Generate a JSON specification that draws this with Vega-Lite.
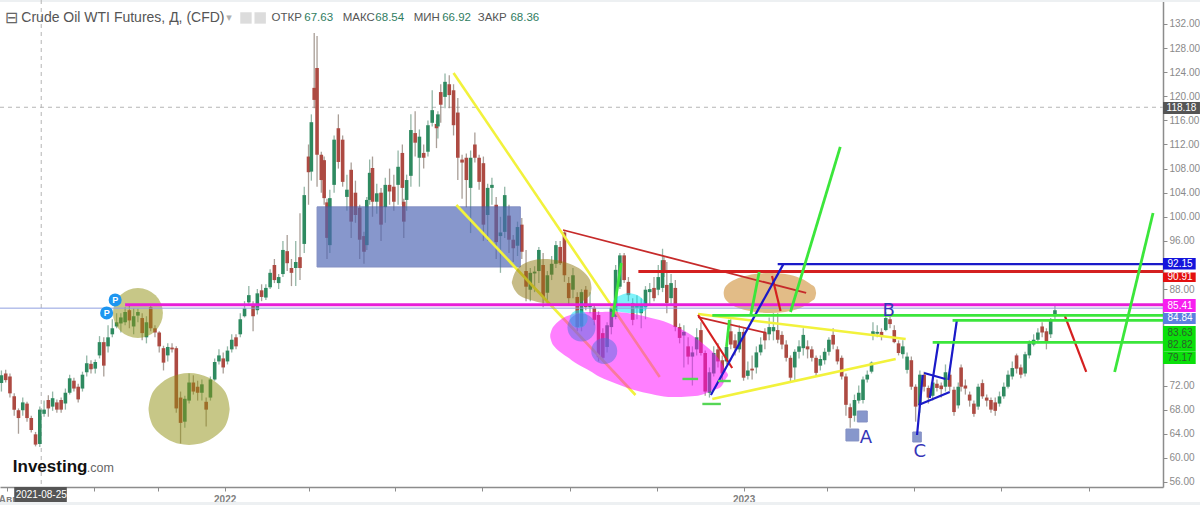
{"$schema":"https://vega.github.io/schema/vega-lite/v6.json","width":1163,"height":487,"padding":{"left":0,"top":0,"right":37,"bottom":18},"autosize":{"type":"none"},"background":"#ffffff","config":{"view":{"stroke":null},"font":"Liberation Sans"},
"datasets":{
"candles":[
{"d":"2021-07-28","o":72.4,"h":74.5,"l":71,"c":73.7},{"d":"2021-07-31","o":74,"h":74.6,"l":72.5,"c":72.9},{"d":"2021-08-03","o":73.5,"h":74,"l":70,"c":70.7},{"d":"2021-08-06","o":70.2,"h":70.7,"l":67,"c":68},{"d":"2021-08-09","o":67.9,"h":68.2,"l":64,"c":66.6},{"d":"2021-08-12","o":67.9,"h":70,"l":67,"c":69.2},{"d":"2021-08-15","o":69,"h":69.3,"l":66,"c":66.6},{"d":"2021-08-18","o":66.6,"h":67,"l":64.2,"c":64.6},{"d":"2021-08-21","o":63.9,"h":64.3,"l":61.9,"c":62.2},{"d":"2021-08-24","o":62.3,"h":68.5,"l":61.8,"c":68},
{"d":"2021-08-27","o":67.3,"h":69.5,"l":66.8,"c":68},{"d":"2021-08-30","o":69.6,"h":70.4,"l":66.8,"c":68.2},{"d":"2021-09-02","o":68.5,"h":71,"l":67.8,"c":69.9},{"d":"2021-09-05","o":69.2,"h":69.7,"l":67.5,"c":68},{"d":"2021-09-08","o":69.6,"h":70,"l":67.5,"c":68},{"d":"2021-09-11","o":69,"h":71.5,"l":68,"c":70.8},{"d":"2021-09-14","o":70.8,"h":73.8,"l":70.5,"c":73.2},{"d":"2021-09-17","o":72.8,"h":73.3,"l":71,"c":71.5},{"d":"2021-09-20","o":71.8,"h":72.3,"l":69.2,"c":69.7},{"d":"2021-09-23","o":71.5,"h":74.3,"l":71,"c":73.8},
{"d":"2021-09-26","o":74.2,"h":77,"l":73.5,"c":75.7},{"d":"2021-09-29","o":75.6,"h":76.2,"l":74,"c":74.7},{"d":"2021-10-02","o":74.8,"h":76.3,"l":74,"c":75.9},{"d":"2021-10-05","o":77,"h":80.2,"l":76.5,"c":79.2},{"d":"2021-10-08","o":79.2,"h":80,"l":73.5,"c":75.3},{"d":"2021-10-11","o":78.5,"h":82,"l":77.5,"c":80},{"d":"2021-10-14","o":80.5,"h":83,"l":80,"c":81.5},{"d":"2021-10-17","o":81.8,"h":84,"l":81.5,"c":82.5},{"d":"2021-10-20","o":82.3,"h":84,"l":80.8,"c":83.3},{"d":"2021-10-23","o":82.5,"h":85,"l":82,"c":84.2},
{"d":"2021-10-26","o":84.5,"h":85.3,"l":81.5,"c":82.8},{"d":"2021-10-29","o":81.8,"h":84.8,"l":80.5,"c":83.5},{"d":"2021-11-01","o":83.6,"h":84.8,"l":82.5,"c":84.2},{"d":"2021-11-04","o":83.2,"h":84,"l":79.5,"c":80.7},{"d":"2021-11-07","o":80,"h":83.5,"l":79,"c":82.5},{"d":"2021-11-10","o":85,"h":85.5,"l":81,"c":81.5},{"d":"2021-11-13","o":81.5,"h":82,"l":80,"c":80.8},{"d":"2021-11-16","o":80.8,"h":81,"l":77.5,"c":78.5},{"d":"2021-11-19","o":78.2,"h":78.6,"l":74.5,"c":75.8},{"d":"2021-11-22","o":77,"h":79,"l":76,"c":78.4},
{"d":"2021-11-25","o":78.3,"h":79,"l":77.5,"c":78},{"d":"2021-11-28","o":78.2,"h":78.5,"l":67.5,"c":68.2},{"d":"2021-12-01","o":70,"h":71,"l":62.4,"c":65.8},{"d":"2021-12-04","o":66,"h":70.3,"l":65,"c":69.8},{"d":"2021-12-07","o":69.5,"h":74,"l":69,"c":72.5},{"d":"2021-12-10","o":72.5,"h":73.7,"l":70.5,"c":71},{"d":"2021-12-13","o":71.8,"h":72.8,"l":69.5,"c":70.8},{"d":"2021-12-16","o":70.8,"h":73,"l":69.5,"c":72.2},{"d":"2021-12-19","o":69.3,"h":70,"l":65.2,"c":68},{"d":"2021-12-22","o":70,"h":73.5,"l":69.5,"c":73},
{"d":"2021-12-25","o":73,"h":76.5,"l":72.8,"c":75.9},{"d":"2021-12-28","o":76,"h":78,"l":75.5,"c":77},{"d":"2021-12-31","o":76.5,"h":77.5,"l":74,"c":75},{"d":"2022-01-03","o":76,"h":78.5,"l":75.5,"c":77.8},{"d":"2022-01-06","o":78,"h":80.5,"l":77.5,"c":79.6},{"d":"2022-01-09","o":80,"h":80.5,"l":78,"c":78.5},{"d":"2022-01-12","o":80.5,"h":84,"l":80,"c":83},{"d":"2022-01-15","o":83.5,"h":86,"l":83.3,"c":84.8},{"d":"2022-01-18","o":85.8,"h":88.5,"l":85.5,"c":87},{"d":"2022-01-21","o":85.5,"h":86,"l":81,"c":83.5},
{"d":"2022-01-24","o":84.5,"h":88,"l":83.8,"c":87.3},{"d":"2022-01-27","o":87.8,"h":88.8,"l":86,"c":86.7},{"d":"2022-01-30","o":86.6,"h":88.8,"l":86.2,"c":88.2},{"d":"2022-02-02","o":88.3,"h":91.3,"l":88,"c":90.7},{"d":"2022-02-05","o":92,"h":93,"l":89,"c":89.5},{"d":"2022-02-08","o":89,"h":90.5,"l":88,"c":90},{"d":"2022-02-11","o":90.5,"h":96,"l":90,"c":94.5},{"d":"2022-02-14","o":94.3,"h":97,"l":91,"c":92.3},{"d":"2022-02-17","o":91.5,"h":93,"l":88.5,"c":90.7},{"d":"2022-02-20","o":91.5,"h":96,"l":88.5,"c":92.5},
{"d":"2022-02-23","o":93.3,"h":100.6,"l":89.5,"c":91.5},{"d":"2022-02-26","o":95.5,"h":105,"l":94,"c":103.6},{"d":"2022-03-01","o":110,"h":112,"l":102,"c":107.4},{"d":"2022-03-03","o":107.5,"h":117,"l":106,"c":115.7},{"d":"2022-03-05","o":121.4,"h":130.5,"l":118,"c":119.4},{"d":"2022-03-07","o":124.7,"h":130,"l":105,"c":110.3},{"d":"2022-03-10","o":110.3,"h":110.8,"l":104,"c":106.1},{"d":"2022-03-12","o":109.4,"h":110,"l":102,"c":103.1},{"d":"2022-03-14","o":102.4,"h":103,"l":93,"c":96.5},{"d":"2022-03-16","o":95.3,"h":104.5,"l":94,"c":103.1},
{"d":"2022-03-19","o":105.3,"h":113.5,"l":104,"c":112.8},{"d":"2022-03-22","o":114.7,"h":117,"l":108,"c":109.1},{"d":"2022-03-25","o":112.8,"h":113.5,"l":105,"c":105.8},{"d":"2022-03-28","o":103.3,"h":107,"l":101,"c":104.5},{"d":"2022-03-31","o":107.8,"h":109,"l":96.5,"c":99.2},{"d":"2022-04-03","o":104,"h":106,"l":99,"c":100.3},{"d":"2022-04-06","o":101.5,"h":102,"l":93,"c":96.2},{"d":"2022-04-09","o":96.8,"h":97.5,"l":92.2,"c":94.2},{"d":"2022-04-11","o":95.3,"h":103.3,"l":94.5,"c":102.8},{"d":"2022-04-13","o":102.8,"h":109.5,"l":102,"c":107.3},
{"d":"2022-04-15","o":108.1,"h":110,"l":100,"c":102.5},{"d":"2022-04-18","o":102.5,"h":105.5,"l":100.5,"c":103.9},{"d":"2022-04-21","o":104,"h":104.8,"l":96,"c":98.7},{"d":"2022-04-24","o":101.6,"h":106.5,"l":99,"c":105.3},{"d":"2022-04-27","o":105.3,"h":108,"l":102,"c":104.2},{"d":"2022-04-30","o":105,"h":107,"l":101,"c":102.5},{"d":"2022-05-03","o":105.3,"h":111,"l":102,"c":108.3},{"d":"2022-05-06","o":110.6,"h":112,"l":102,"c":104.8},{"d":"2022-05-07","o":102.5,"h":103,"l":96.5,"c":99.2},{"d":"2022-05-09","o":102.8,"h":107,"l":101,"c":106.1},
{"d":"2022-05-12","o":106.8,"h":117,"l":105,"c":114.4},{"d":"2022-05-15","o":113.9,"h":117.5,"l":110,"c":112.3},{"d":"2022-05-18","o":109.8,"h":114.5,"l":105,"c":113.3},{"d":"2022-05-21","o":110.6,"h":112,"l":108,"c":109.8},{"d":"2022-05-24","o":110.8,"h":116,"l":110,"c":115.2},{"d":"2022-05-27","o":115.6,"h":121,"l":115,"c":117.7},{"d":"2022-05-30","o":115.4,"h":116,"l":111.4,"c":114.7},{"d":"2022-05-31","o":115,"h":117.5,"l":113,"c":117},{"d":"2022-06-02","o":120.7,"h":122,"l":115.6,"c":118.6},{"d":"2022-06-05","o":119.9,"h":123.8,"l":118,"c":122.4},
{"d":"2022-06-08","o":122,"h":123.5,"l":118,"c":120.2},{"d":"2022-06-11","o":121,"h":122,"l":113.5,"c":115.2},{"d":"2022-06-14","o":117.3,"h":119.7,"l":106.1,"c":109.8},{"d":"2022-06-17","o":109.5,"h":110.3,"l":103,"c":109},{"d":"2022-06-20","o":109.8,"h":110.5,"l":101.6,"c":106.1},{"d":"2022-06-23","o":104.8,"h":111,"l":97.3,"c":109.8},{"d":"2022-06-26","o":112,"h":114,"l":109,"c":109.8},{"d":"2022-06-29","o":109.8,"h":110.3,"l":104.5,"c":105.8},{"d":"2022-07-02","o":108.9,"h":110,"l":96,"c":98.7},{"d":"2022-07-05","o":100.3,"h":105.5,"l":96,"c":104.8},
{"d":"2022-07-08","o":104.8,"h":106.5,"l":102,"c":105.3},{"d":"2022-07-11","o":102,"h":103.3,"l":93,"c":95.8},{"d":"2022-07-14","o":96.8,"h":100,"l":90.7,"c":97.4},{"d":"2022-07-17","o":97.5,"h":105,"l":96.5,"c":103.6},{"d":"2022-07-20","o":100.2,"h":102,"l":94,"c":96.2},{"d":"2022-07-23","o":96.2,"h":97,"l":92.5,"c":94.8},{"d":"2022-07-26","o":95.2,"h":99.2,"l":93.5,"c":98.3},{"d":"2022-07-29","o":98.7,"h":99.8,"l":93,"c":94.2},{"d":"2022-08-01","o":91,"h":94.5,"l":86,"c":88.4},{"d":"2022-08-04","o":87.9,"h":91.5,"l":86,"c":90.7},
{"d":"2022-08-07","o":90.6,"h":91.8,"l":87.5,"c":90.9},{"d":"2022-08-10","o":91,"h":95,"l":89,"c":94.5},{"d":"2022-08-13","o":92,"h":94,"l":85,"c":86.7},{"d":"2022-08-16","o":87.4,"h":91,"l":85.2,"c":90.3},{"d":"2022-08-19","o":90.4,"h":93.5,"l":89.5,"c":92.2},{"d":"2022-08-22","o":92.2,"h":96,"l":91.5,"c":95.3},{"d":"2022-08-25","o":95,"h":96,"l":92,"c":92.3},{"d":"2022-08-28","o":97.4,"h":97.6,"l":89.2,"c":90.3},{"d":"2022-08-31","o":89,"h":90,"l":85.5,"c":86.5},{"d":"2022-09-03","o":87.9,"h":91.5,"l":86.5,"c":90.3},
{"d":"2022-09-06","o":86.7,"h":87.5,"l":81,"c":81.7},{"d":"2022-09-09","o":81.8,"h":88,"l":81,"c":87.5},{"d":"2022-09-12","o":87.9,"h":88.5,"l":84.5,"c":85},{"d":"2022-09-15","o":85,"h":87.5,"l":84,"c":85.5},{"d":"2022-09-18","o":84.9,"h":85.5,"l":82,"c":82.9},{"d":"2022-09-21","o":83.7,"h":84.3,"l":76,"c":76.7},{"d":"2022-09-24","o":80.7,"h":81.5,"l":76,"c":76.6},{"d":"2022-09-27","o":78.4,"h":82.5,"l":77.5,"c":82},{"d":"2022-09-30","o":81.7,"h":85.5,"l":80.5,"c":84.9},{"d":"2022-10-03","o":83.4,"h":92,"l":83,"c":91.2},
{"d":"2022-10-06","o":88.4,"h":94,"l":88,"c":93.6},{"d":"2022-10-09","o":93.6,"h":94,"l":89,"c":89.5},{"d":"2022-10-12","o":89.2,"h":90,"l":86,"c":87},{"d":"2022-10-15","o":85.7,"h":86.5,"l":82,"c":82.9},{"d":"2022-10-18","o":84.9,"h":87,"l":83,"c":85.4},{"d":"2022-10-21","o":84,"h":86.5,"l":81.5,"c":85.4},{"d":"2022-10-24","o":85,"h":88.5,"l":83,"c":87.9},{"d":"2022-10-27","o":87.5,"h":89,"l":85.5,"c":88},{"d":"2022-10-30","o":88.2,"h":90,"l":86,"c":86.5},{"d":"2022-11-02","o":87.9,"h":92,"l":87,"c":90},
{"d":"2022-11-05","o":88.2,"h":94.7,"l":87.5,"c":92.8},{"d":"2022-11-06","o":92.8,"h":93.5,"l":90,"c":91},{"d":"2022-11-08","o":88.7,"h":92.5,"l":84,"c":85.7},{"d":"2022-11-11","o":86.5,"h":90.5,"l":85.5,"c":89},{"d":"2022-11-14","o":88.2,"h":89.5,"l":81,"c":81.7},{"d":"2022-11-17","o":81.7,"h":82.3,"l":79,"c":79.9},{"d":"2022-11-20","o":80.3,"h":82,"l":75,"c":80.9},{"d":"2022-11-23","o":78.5,"h":80,"l":75.5,"c":76.8},{"d":"2022-11-26","o":76.8,"h":78.5,"l":72,"c":77.5},{"d":"2022-11-29","o":78,"h":81.5,"l":77,"c":80},
{"d":"2022-12-02","o":81.2,"h":82.5,"l":77,"c":77.4},{"d":"2022-12-05","o":77.4,"h":77.8,"l":70.3,"c":71},{"d":"2022-12-08","o":70.8,"h":75,"l":70,"c":74.2},{"d":"2022-12-11","o":74,"h":78.5,"l":73.5,"c":77.4},{"d":"2022-12-14","o":78,"h":79,"l":75,"c":76},{"d":"2022-12-17","o":76.2,"h":77,"l":72.5,"c":74},{"d":"2022-12-20","o":76,"h":79,"l":75.5,"c":78.4},{"d":"2022-12-23","o":81,"h":83,"l":78,"c":78.8},{"d":"2022-12-26","o":79.5,"h":80.5,"l":77,"c":78.2},{"d":"2022-12-29","o":78,"h":82,"l":77.5,"c":80.9},
{"d":"2023-01-01","o":80.9,"h":81.5,"l":72.8,"c":73.3},{"d":"2023-01-04","o":73.6,"h":76,"l":73,"c":74.5},{"d":"2023-01-07","o":74.8,"h":77,"l":73,"c":74.5},{"d":"2023-01-10","o":75,"h":78.5,"l":74,"c":77.5},{"d":"2023-01-13","o":77.5,"h":80,"l":77,"c":78.8},{"d":"2023-01-16","o":80.7,"h":81.5,"l":78,"c":79.5},{"d":"2023-01-19","o":80.5,"h":83.3,"l":79.5,"c":81.7},{"d":"2023-01-22","o":81,"h":84,"l":79.5,"c":81.7},{"d":"2023-01-25","o":81.2,"h":84,"l":79,"c":79.6},{"d":"2023-01-28","o":80.4,"h":81,"l":78,"c":78.8},
{"d":"2023-01-31","o":78.8,"h":79.5,"l":76,"c":76.6},{"d":"2023-02-03","o":76.6,"h":77,"l":72.5,"c":73.3},{"d":"2023-02-06","o":75,"h":78,"l":72.8,"c":77.6},{"d":"2023-02-09","o":77.6,"h":79.5,"l":76.5,"c":78.5},{"d":"2023-02-12","o":78.2,"h":81.5,"l":77,"c":80.4},{"d":"2023-02-15","o":78.5,"h":79.5,"l":76.5,"c":78},{"d":"2023-02-18","o":78,"h":78.5,"l":76,"c":76.6},{"d":"2023-02-21","o":76.6,"h":77,"l":73.5,"c":74.1},{"d":"2023-02-24","o":75.3,"h":77,"l":74.5,"c":76.4},{"d":"2023-02-27","o":76.2,"h":78.2,"l":75.5,"c":77.6},
{"d":"2023-03-02","o":77.6,"h":80,"l":77,"c":79.6},{"d":"2023-03-05","o":80.4,"h":81.5,"l":78,"c":78.8},{"d":"2023-03-08","o":78,"h":78.5,"l":75.5,"c":76},{"d":"2023-03-11","o":76.6,"h":77,"l":73,"c":73.5},{"d":"2023-03-14","o":73.5,"h":74,"l":67,"c":68.8},{"d":"2023-03-17","o":68.4,"h":69,"l":65,"c":66.6},{"d":"2023-03-20","o":67,"h":70.5,"l":66,"c":69.6},{"d":"2023-03-23","o":69.5,"h":72,"l":69,"c":70.8},{"d":"2023-03-26","o":69.6,"h":73.5,"l":69,"c":73},{"d":"2023-03-29","o":73,"h":74.5,"l":72.5,"c":73.8},
{"d":"2023-04-01","o":74.3,"h":76,"l":74,"c":75.8},{"d":"2023-04-02","o":80.5,"h":82.5,"l":79.5,"c":81},{"d":"2023-04-05","o":80.6,"h":82,"l":80,"c":80.9},{"d":"2023-04-08","o":80.9,"h":81.5,"l":79.5,"c":80.2},{"d":"2023-04-11","o":81.2,"h":84.2,"l":81,"c":83.2},{"d":"2023-04-14","o":83,"h":83.4,"l":81.5,"c":82.2},{"d":"2023-04-17","o":81.2,"h":82,"l":79,"c":79.2},{"d":"2023-04-20","o":79,"h":79.5,"l":77,"c":77.4},{"d":"2023-04-23","o":77.2,"h":79.5,"l":76.5,"c":78.5},{"d":"2023-04-26","o":74.6,"h":77.5,"l":74,"c":76.8},
{"d":"2023-04-29","o":76.2,"h":76.8,"l":71.3,"c":71.8},{"d":"2023-05-02","o":71.8,"h":72.2,"l":66,"c":68.5},{"d":"2023-05-05","o":68.8,"h":74.5,"l":67.5,"c":73.8},{"d":"2023-05-08","o":73.8,"h":74.3,"l":71,"c":71.8},{"d":"2023-05-11","o":71.6,"h":72,"l":69,"c":70},{"d":"2023-05-14","o":70.3,"h":73,"l":69.5,"c":72.5},{"d":"2023-05-17","o":72.3,"h":73,"l":71,"c":71.6},{"d":"2023-05-20","o":72,"h":72.5,"l":70,"c":71.4},{"d":"2023-05-23","o":71.8,"h":75.5,"l":71,"c":74.2},{"d":"2023-05-26","o":73.8,"h":74.5,"l":71,"c":71.8},
{"d":"2023-05-29","o":71.3,"h":71.8,"l":67,"c":67.6},{"d":"2023-06-01","o":68.7,"h":72.5,"l":68.2,"c":71.8},{"d":"2023-06-03","o":75,"h":75.5,"l":71,"c":71.8},{"d":"2023-06-06","o":72,"h":73,"l":70.5,"c":71.5},{"d":"2023-06-09","o":70.5,"h":71,"l":68.5,"c":69.5},{"d":"2023-06-12","o":69,"h":69.5,"l":66.8,"c":67.3},{"d":"2023-06-15","o":68.5,"h":72.3,"l":68,"c":71.8},{"d":"2023-06-18","o":72.4,"h":73,"l":69.8,"c":70.2},{"d":"2023-06-21","o":70,"h":70.5,"l":68.5,"c":69.5},{"d":"2023-06-24","o":69.6,"h":70,"l":67.5,"c":68},
{"d":"2023-06-27","o":69.2,"h":70,"l":67,"c":67.8},{"d":"2023-06-30","o":69,"h":71,"l":68.5,"c":70.2},{"d":"2023-07-03","o":70.2,"h":72.5,"l":69.8,"c":71.8},{"d":"2023-07-06","o":71.8,"h":74.5,"l":71.5,"c":73.8},{"d":"2023-07-09","o":73.5,"h":76,"l":73,"c":74.9},{"d":"2023-07-12","o":77,"h":77.3,"l":74,"c":74.8},{"d":"2023-07-15","o":75,"h":75.5,"l":73.2,"c":73.8},{"d":"2023-07-18","o":74,"h":77.6,"l":73.5,"c":77.2},{"d":"2023-07-21","o":77,"h":79.5,"l":76.5,"c":79},{"d":"2023-07-24","o":78.8,"h":80.5,"l":78.5,"c":79.6},
{"d":"2023-07-27","o":79.6,"h":81.5,"l":79,"c":80.8},{"d":"2023-07-30","o":81.8,"h":82.5,"l":80,"c":80.8},{"d":"2023-08-02","o":81,"h":81.5,"l":78,"c":79.2},{"d":"2023-08-05","o":80.5,"h":83.2,"l":79.9,"c":82.8},{"d":"2023-08-08","o":83.5,"h":85.5,"l":83,"c":84.5}
],
"yellowLines":[
{"d":"2022-06-11","p":123.87,"d2":"2022-11-03","p2":73.42},
{"d":"2022-06-13","p":101.96,"d2":"2022-10-17","p2":70.43},
{"d":"2022-11-30","p":83.87,"d2":"2023-04-25","p2":79.72},
{"d":"2022-12-10","p":69.77,"d2":"2023-04-18","p2":76.4}
],
"lines":[
{"kind":"last","d":"2021-07-27","p":84.84,"d2":"2023-10-23","p2":84.84},
{"kind":"magenta","d":"2021-10-23","p":85.41,"d2":"2023-10-23","p2":85.41},
{"kind":"thinred","d":"2022-08-27","p":97.81,"d2":"2023-02-14","p2":87.36},
{"kind":"thinred","d":"2022-11-30","p":83.37,"d2":"2023-01-17","p2":80.72},
{"kind":"red","d":"2022-10-19","p":90.91,"d2":"2023-10-23","p2":90.91},
{"kind":"red2","d":"2022-11-30","p":83.7,"d2":"2022-12-24","p2":74.91},
{"kind":"red2","d":"2023-01-21","p":90.18,"d2":"2023-01-27","p2":84.37},
{"kind":"red2","d":"2023-08-15","p":83.54,"d2":"2023-08-30","p2":74.25},
{"kind":"blue","d":"2022-12-09","p":70.43,"d2":"2023-01-29","p2":92.15},
{"kind":"blue","d":"2023-01-25","p":92.15,"d2":"2023-10-23","p2":92.15},
{"kind":"blue","d":"2023-05-03","p":63.79,"d2":"2023-05-07","p2":73.75},
{"kind":"blue","d":"2023-05-08","p":74.08,"d2":"2023-05-23","p2":73.09},
{"kind":"blue","d":"2023-05-26","p":70.93,"d2":"2023-05-04","p2":68.77},
{"kind":"blue","d":"2023-05-12","p":69.94,"d2":"2023-05-18","p2":79.06},
{"kind":"blue","d":"2023-05-25","p":72.92,"d2":"2023-05-31","p2":82.82},
{"kind":"green","d":"2022-12-10","p":83.63,"d2":"2023-10-23","p2":83.63},
{"kind":"green","d":"2023-05-28","p":82.82,"d2":"2023-10-23","p2":82.82},
{"kind":"green","d":"2023-05-14","p":79.17,"d2":"2023-10-23","p2":79.17},
{"kind":"green","d":"2023-02-03","p":84.2,"d2":"2023-03-10","p2":111.59},
{"kind":"green","d":"2023-09-19","p":74.25,"d2":"2023-10-16","p2":100.63},
{"kind":"green","d":"2023-01-06","p":83.63,"d2":"2023-01-12","p2":90.84},
{"kind":"green","d":"2022-12-20","p":78.4,"d2":"2022-12-22","p2":82.88},
{"kind":"green","d":"2022-10-01","p":83.37,"d2":"2022-10-07","p2":92.34},
{"kind":"paleGreen","d":"2022-11-19","p":73.09,"d2":"2022-11-30","p2":73.09},
{"kind":"paleGreen","d":"2022-12-14","p":72.75,"d2":"2022-12-23","p2":72.75},
{"kind":"paleGreen","d":"2022-12-03","p":68.94,"d2":"2022-12-16","p2":68.94}
],
"cross":[
{"d":"2021-08-25","p":135.98,"d2":"2021-08-25","p2":55.16},
{"d":"2021-07-27","p":118.18,"d2":"2023-10-23","p2":118.18}
],
"ovals":[
{"shape":"cyan","d":"2022-10-01","p":85.37,"p2":85.03},{"shape":"cyan","d":"2022-10-02","p":86.36,"p2":84.37},{"shape":"cyan","d":"2022-10-07","p":87.02,"p2":84.2},{"shape":"cyan","d":"2022-10-12","p":87.36,"p2":84.04},{"shape":"cyan","d":"2022-10-18","p":87.02,"p2":84.04},{"shape":"cyan","d":"2022-10-22","p":86.36,"p2":84.2},{"shape":"cyan","d":"2022-10-25","p":85.2,"p2":84.7},
{"shape":"magenta","d":"2022-08-18","p":80.39,"p2":80.06},{"shape":"magenta","d":"2022-08-20","p":81.71,"p2":78.73},{"shape":"magenta","d":"2022-08-25","p":82.88,"p2":77.57},{"shape":"magenta","d":"2022-08-30","p":83.54,"p2":76.74},{"shape":"magenta","d":"2022-09-06","p":84.04,"p2":75.57},{"shape":"magenta","d":"2022-09-15","p":84.2,"p2":74.41},{"shape":"magenta","d":"2022-09-22","p":84.2,"p2":73.42},{"shape":"magenta","d":"2022-10-04","p":84.2,"p2":72.25},{"shape":"magenta","d":"2022-10-16","p":83.87,"p2":71.26},{"shape":"magenta","d":"2022-10-28","p":83.21,"p2":70.6},{"shape":"magenta","d":"2022-11-09","p":82.38,"p2":70.1},{"shape":"magenta","d":"2022-11-23","p":80.72,"p2":70.18},{"shape":"magenta","d":"2022-12-02","p":79.22,"p2":70.43},{"shape":"magenta","d":"2022-12-11","p":77.4,"p2":71.26},{"shape":"magenta","d":"2022-12-16","p":75.91,"p2":71.76},{"shape":"magenta","d":"2022-12-19","p":74.58,"p2":72.92},{"shape":"magenta","d":"2022-12-21","p":73.92,"p2":73.58},
{"shape":"olive","d":"2021-11-08T12:00","p":68.2,"p2":68},{"shape":"olive","d":"2021-11-09T12:00","p":69.65,"p2":66.57},{"shape":"olive","d":"2021-11-12","p":71.1,"p2":65.12},{"shape":"olive","d":"2021-11-17","p":72.34,"p2":63.88},{"shape":"olive","d":"2021-11-23","p":73.29,"p2":62.93},{"shape":"olive","d":"2021-11-30","p":73.89,"p2":62.33},{"shape":"olive","d":"2021-12-07","p":74.08,"p2":62.14},{"shape":"olive","d":"2021-12-14","p":73.89,"p2":62.33},{"shape":"olive","d":"2021-12-21","p":73.29,"p2":62.93},{"shape":"olive","d":"2021-12-27","p":72.34,"p2":63.88},{"shape":"olive","d":"2022-01-01","p":71.1,"p2":65.12},{"shape":"olive","d":"2022-01-03T12:00","p":69.65,"p2":66.57},{"shape":"olive","d":"2022-01-04T12:00","p":68.2,"p2":68},
{"shape":"khaki","d":"2022-07-22","p":89.18,"p2":89.02},{"shape":"khaki","d":"2022-07-24","p":90.68,"p2":87.86},{"shape":"khaki","d":"2022-07-28","p":91.84,"p2":86.86},{"shape":"khaki","d":"2022-08-04","p":92.67,"p2":86.2},{"shape":"khaki","d":"2022-08-13","p":93,"p2":85.7},{"shape":"khaki","d":"2022-08-22","p":92.83,"p2":85.45},{"shape":"khaki","d":"2022-08-30","p":92.34,"p2":85.45},{"shape":"khaki","d":"2022-09-07","p":91.5,"p2":85.7},{"shape":"khaki","d":"2022-09-12","p":90.51,"p2":86.36},{"shape":"khaki","d":"2022-09-15","p":89.51,"p2":87.02},{"shape":"khaki","d":"2022-09-16","p":88.35,"p2":88.02},
{"shape":"tan","d":"2022-12-18","p":87.4,"p2":87.3},{"shape":"tan","d":"2022-12-19","p":88.32,"p2":86.4},{"shape":"tan","d":"2022-12-23","p":89.22,"p2":85.5},{"shape":"tan","d":"2022-12-30","p":89.98,"p2":84.74},{"shape":"tan","d":"2023-01-09","p":90.51,"p2":84.21},{"shape":"tan","d":"2023-01-21","p":90.68,"p2":84.04},{"shape":"tan","d":"2023-02-02","p":90.4,"p2":84.32},{"shape":"tan","d":"2023-02-11","p":89.73,"p2":84.99},{"shape":"tan","d":"2023-02-17","p":88.85,"p2":85.87},{"shape":"tan","d":"2023-02-20","p":88.32,"p2":86.4},{"shape":"tan","d":"2023-02-21","p":87.4,"p2":87.3}
],
"circles":[
{"shape":"olive50","d":"2021-11-01","p":84.04},
{"shape":"cyan18","d":"2022-09-07","p":83.04},
{"shape":"purple28","d":"2022-09-09","p":81.63},
{"shape":"purple26","d":"2022-09-25","p":77.73}
],
"boxes":[
{"d":"2022-03-07","p":101.65,"d2":"2022-07-28","p2":91.67},
{"d":"2023-03-14","p":64.78,"d2":"2023-03-23","p2":62.8},
{"d":"2023-03-22","p":67.77,"d2":"2023-03-29","p2":65.95},
{"d":"2023-04-30","p":64.29,"d2":"2023-05-06","p2":62.63}
],
"bands":[
{"d":"2021-07-27","p":135.98,"d2":"2023-11-19","p2":135.65},
{"d":"2021-07-27","p":52.67,"d2":"2023-11-19","p2":52.1}
],
"tags":[
{"t":"92.15","tone":"blue","d":"2023-10-23","d2":"2023-11-15","dm":"2023-11-04","p":93.17,"p2":91.26,"pm":92.17},
{"t":"90.91","tone":"red","d":"2023-10-23","d2":"2023-11-15","dm":"2023-11-04","p":90.76,"p2":89.18,"pm":90.01},
{"t":"85.41","tone":"magenta","d":"2023-10-23","d2":"2023-11-15","dm":"2023-11-04","p":86.36,"p2":84.2,"pm":85.28},
{"t":"84.84","tone":"steel","d":"2023-10-23","d2":"2023-11-15","dm":"2023-11-04","p":84.04,"p2":82.21,"pm":83.13},
{"t":"83.63","tone":"green","d":"2023-10-23","d2":"2023-11-15","dm":"2023-11-04","p":81.88,"p2":79.72,"pm":80.8},
{"t":"82.82","tone":"green","d":"2023-10-23","d2":"2023-11-15","dm":"2023-11-04","p":79.72,"p2":77.65,"pm":78.73},
{"t":"79.17","tone":"green","d":"2023-10-23","d2":"2023-11-15","dm":"2023-11-04","p":77.65,"p2":75.57,"pm":76.57},
{"t":"118.18","tone":"dark","d":"2023-10-23","d2":"2023-11-18","dm":"2023-11-05","p":119.05,"p2":117.06,"pm":118.06},
{"t":"2021-08-25","tone":"dark","d":"2021-08-06","d2":"2021-09-12","dm":"2021-08-25","p":55.16,"p2":52.67,"pm":53.83}
],
"wave":[{"t":"A","d":"2023-03-28","p":63.3},{"t":"B","d":"2023-04-13","p":84.4},{"t":"C","d":"2023-05-05","p":60.95}],
"pins":[{"t":"P","d":"2021-10-16","p":86.2},{"t":"P","d":"2021-10-10","p":84.05}],
"icons":[{"d":"2022-01-16","p":133},{"d":"2022-01-26","p":133}],
"head":[
{"t":"ОТКР","role":"label","d":"2022-02-03","p":133},{"t":"67.63","role":"value","d":"2022-02-26","p":133},
{"t":"МАКС","role":"label","d":"2022-03-25","p":133},{"t":"68.54","role":"value","d":"2022-04-17","p":133},
{"t":"МИН","role":"label","d":"2022-05-14","p":133},{"t":"66.92","role":"value","d":"2022-06-03","p":133},
{"t":"ЗАКР","role":"label","d":"2022-06-28","p":133},{"t":"68.36","role":"value","d":"2022-07-21","p":133}
]
},
"encoding":{
"x":{"field":"d","type":"temporal","title":null,"scale":{"domain":["2021-07-27","2023-10-23"],"padding":0},"axis":{"values":["2021-08-01","2021-10-01","2021-11-15","2022-01-01","2022-03-01","2022-05-01","2022-07-01","2022-09-01","2022-11-01","2023-01-01","2023-03-01","2023-05-01","2023-07-01","2023-09-01"],"labelExpr":"utcmonth(datum.value)==0 ? utcFormat(datum.value,'%Y') : (utcmonth(datum.value)==7 ? 'Авг' : '')","grid":false,"tickSize":4,"tickColor":"#8c8c8c","domainColor":"#8c8c8c","domainWidth":1.5,"labelColor":"#808080","labelFontSize":10,"labelFontWeight":"bold","labelPadding":3,"labelFlush":false,"labelOverlap":false,"labelBound":false}},
"y":{"field":"p","type":"quantitative","title":null,"scale":{"domain":[55.16,135.98],"nice":false,"zero":false},"axis":{"orient":"right","values":[56,60,64,68,72,88,96,100,104,108,112,116,120,124,128,132],"format":".2f","grid":false,"tickSize":4,"tickColor":"#8c8c8c","domainColor":"#8c8c8c","domainWidth":1.5,"labelColor":"#8a8a8a","labelFontSize":10,"labelPadding":2,"labelOverlap":false,"labelBound":false}}
},
"resolve":{"scale":{"color":"independent","size":"independent","strokeWidth":"independent"}},
"layer":[
{"data":{"name":"bands"},"mark":{"type":"rect","color":"#edf0f2"},"encoding":{"x2":{"field":"d2"},"y2":{"field":"p2"}}},
{"data":{"name":"cross"},"mark":{"type":"rule","color":"#b5b5b5","strokeWidth":1,"strokeDash":[4,4]},"encoding":{"x2":{"field":"d2"},"y2":{"field":"p2"}}},
{"data":{"name":"candles"},"mark":{"type":"rule","strokeWidth":1.3,"opacity":0.75},"encoding":{"y":{"field":"l"},"y2":{"field":"h"},"color":{"condition":{"test":"datum.c>=datum.o","value":"#6f9e88"},"value":"#8c7d74"}}},
{"data":{"name":"candles"},"mark":{"type":"bar","size":3.6},"encoding":{"y":{"field":"o"},"y2":{"field":"c"},"color":{"condition":{"test":"datum.c>=datum.o","value":"#2e8a60"},"value":"#ad4a42"}}},
{"data":{"name":"boxes"},"mark":{"type":"rect","color":"#4f66b4","opacity":0.68,"stroke":"#4a5ca8","strokeWidth":1},"encoding":{"x2":{"field":"d2"},"y2":{"field":"p2"}}},
{"data":{"name":"yellowLines"},"mark":{"type":"rule","color":"#f2f23c","strokeWidth":2.6},"encoding":{"x2":{"field":"d2"},"y2":{"field":"p2"}}},
{"data":{"name":"ovals"},"mark":{"type":"area","interpolate":"cardinal","opacity":0.5},"encoding":{"y2":{"field":"p2"},"color":{"field":"shape","type":"nominal","legend":null,"scale":{"domain":["cyan","magenta","olive","khaki","tan"],"range":["#00e5f5","#ff00ff","#8f8f10","#8f7a10","#c67a10"]}}}},
{"data":{"name":"circles"},"mark":{"type":"point","filled":true,"shape":"circle","opacity":0.5},"encoding":{"color":{"field":"shape","type":"nominal","legend":null,"scale":{"domain":["olive50","cyan18","purple28","purple26"],"range":["#8f8f10","#00e5f5","#5170e1","#5170e1"]}},"size":{"field":"shape","type":"nominal","legend":null,"scale":{"type":"ordinal","domain":["olive50","cyan18","purple28","purple26"],"range":[2500,324,784,676]}}}},
{"data":{"name":"lines"},"mark":{"type":"rule"},"encoding":{"x2":{"field":"d2"},"y2":{"field":"p2"},"color":{"field":"kind","type":"nominal","legend":null,"scale":{"domain":["last","magenta","thinred","red","red2","blue","green","paleGreen"],"range":["#8f9fe0","#e81ed8","#c62a2a","#d42020","#d42020","#1a1ac8","#3be63b","#55d655"]}},"strokeWidth":{"field":"kind","type":"nominal","legend":null,"scale":{"type":"ordinal","domain":["last","magenta","thinred","red","red2","blue","green","paleGreen"],"range":[1,3,1.8,3,2.2,2.2,2.8,2.4]}}}},
{"data":{"name":"wave"},"mark":{"type":"text","fontSize":18,"color":"#3636b8","font":"DejaVu Sans","align":"center","baseline":"middle"},"encoding":{"text":{"field":"t"}}},
{"data":{"name":"pins"},"mark":{"type":"point","filled":true,"shape":"circle","opacity":1,"color":"#1e96f0","size":170},"encoding":{}},
{"data":{"name":"pins"},"mark":{"type":"text","fontSize":9,"fontWeight":"bold","color":"#ffffff","align":"center","baseline":"middle"},"encoding":{"text":{"field":"t"}}},
{"data":{"name":"tags"},"mark":{"type":"rect"},"encoding":{"x2":{"field":"d2"},"y2":{"field":"p2"},"color":{"field":"tone","type":"nominal","legend":null,"scale":{"domain":["blue","red","magenta","steel","green","dark"],"range":["#1414dc","#e41010","#f81ef0","#5b7fe0","#0ae00a","#555555"]}}}},
{"data":{"name":"tags"},"mark":{"type":"text","fontSize":10,"align":"center","baseline":"middle"},"encoding":{"x":{"field":"dm"},"y":{"field":"pm"},"text":{"field":"t"},"color":{"condition":{"test":"datum.tone=='green'","value":"#2c5e2c"},"value":"#ffffff"}}},
{"data":{"values":[{"t":"Crude Oil WTI Futures, Д, (CFD)","d":"2021-08-11","p":133}]},"mark":{"type":"text","fontSize":14,"color":"#555555","align":"left","baseline":"middle"},"encoding":{"text":{"field":"t"}}},
{"data":{"values":[{"t":"⊟","d":"2021-08-04","p":133}]},"mark":{"type":"text","fontSize":16,"color":"#666666","font":"DejaVu Sans","align":"center","baseline":"middle"},"encoding":{"text":{"field":"t"}}},
{"data":{"values":[{"t":"▾","d":"2022-01-04","p":133}]},"mark":{"type":"text","fontSize":11,"color":"#b0b0b0","font":"DejaVu Sans","align":"center","baseline":"middle"},"encoding":{"text":{"field":"t"}}},
{"data":{"name":"icons"},"mark":{"type":"point","filled":true,"shape":"square","size":130,"opacity":1,"color":"#dcdcdc"},"encoding":{}},
{"data":{"name":"head"},"mark":{"type":"text","fontSize":11.5,"align":"left","baseline":"middle"},"encoding":{"text":{"field":"t"},"color":{"field":"role","type":"nominal","legend":null,"scale":{"domain":["label","value"],"range":["#555555","#2f7d5f"]}}}},
{"data":{"values":[{"t":"Investing","d":"2021-08-05","p":57.65}]},"mark":{"type":"text","fontSize":17,"fontWeight":"bold","color":"#111111","align":"left","baseline":"alphabetic"},"encoding":{"text":{"field":"t"}}},
{"data":{"values":[{"t":".com","d":"2021-09-26","p":57.65}]},"mark":{"type":"text","fontSize":12.5,"color":"#666666","align":"left","baseline":"alphabetic"},"encoding":{"text":{"field":"t"}}}
]
}
